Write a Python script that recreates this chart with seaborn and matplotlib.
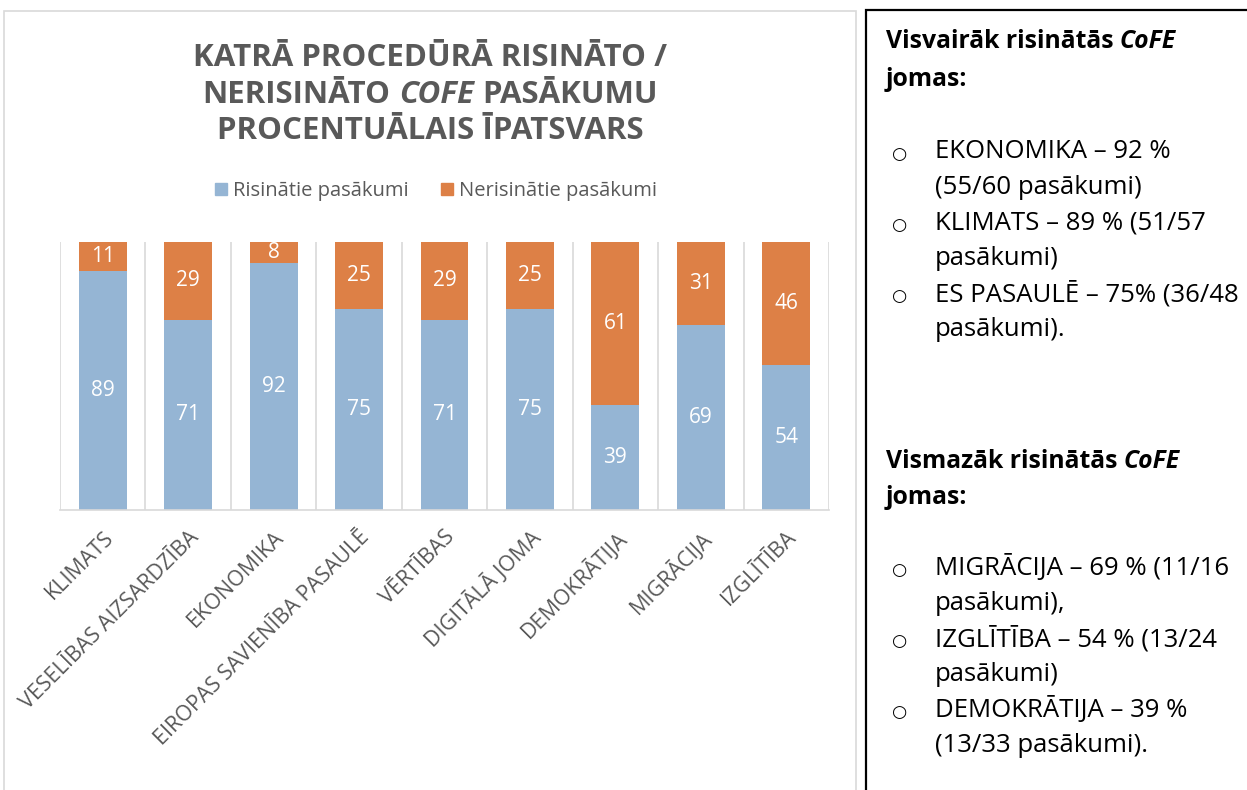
import matplotlib
matplotlib.use("Agg")
import matplotlib.pyplot as plt
import seaborn as sns
import pandas as pd
from matplotlib.patches import Rectangle, Patch

categories = ["KLIMATS", "VESELĪBAS AIZSARDZĪBA", "EKONOMIKA", "EIROPAS SAVIENĪBA PASAULĒ",
              "VĒRTĪBAS", "DIGITĀLĀ JOMA", "DEMOKRĀTIJA", "MIGRĀCIJA", "IZGLĪTĪBA"]
resolved = [89, 71, 92, 75, 71, 75, 39, 69, 54]
unresolved = [11, 29, 8, 25, 29, 25, 61, 31, 46]
series_names = ["Risinātie pasākumi", "Nerisinātie pasākumi"]

title_lines = [
    [("KATRĀ PROCEDŪRĀ RISINĀTO /", "normal")],
    [("NERISINĀTO", "normal"), ("COFE", "italic"), ("PASĀKUMU", "normal")],
    [("PROCENTUĀLAIS ĪPATSVARS", "normal")],
]

side_top_heading = [("Visvairāk risinātās", "normal"), ("CoFE", "italic")]
side_top_items = [
    ["EKONOMIKA – 92 %", "(55/60 pasākumi)"],
    ["KLIMATS – 89 % (51/57", "pasākumi)"],
    ["ES PASAULĒ – 75% (36/48", "pasākumi)."],
]
side_bottom_heading = [("Vismazāk risinātās", "normal"), ("CoFE", "italic")]
side_bottom_items = [
    ["MIGRĀCIJA – 69 % (11/16", "pasākumi),"],
    ["IZGLĪTĪBA – 54 % (13/24", "pasākumi)"],
    ["DEMOKRĀTIJA – 39 %", "(13/33 pasākumi)."],
]

BLUE = "#95B5D4"
ORANGE = "#DD8046"
GRAY = "#595959"
GRID = "#D9D9D9"

sns.set_theme(style="white")
FONT = ["Open Sans", "DejaVu Sans"]
plt.rcParams["font.family"] = FONT

W, H = 1247, 790
fig = plt.figure(figsize=(W / 100, H / 100), dpi=100)
fig.patch.set_facecolor("white")


def fx(px):
    return px / W


def fy(py):
    return 1 - py / H


# frames
fig.patches.append(Rectangle((fx(4), fy(800)), fx(856) - fx(4), fy(11) - fy(800),
                             transform=fig.transFigure, fill=False, edgecolor=GRID, lw=1.2))
fig.patches.append(Rectangle((fx(866), fy(805)), fx(1265) - fx(866), fy(10) - fy(805),
                             transform=fig.transFigure, fill=False, edgecolor="black", lw=1.6))

# axes
ax = fig.add_axes([fx(60), fy(510), fx(829) - fx(60), fy(242) - fy(510)])
df = pd.DataFrame({"cat": categories, "res": resolved,
                   "tot": [r + u for r, u in zip(resolved, unresolved)]})
sns.barplot(data=df, x="cat", y="tot", color=ORANGE, width=0.56, ax=ax,
            saturation=1, edgecolor="none", linewidth=0, order=categories)
sns.barplot(data=df, x="cat", y="res", color=BLUE, width=0.56, ax=ax,
            saturation=1, edgecolor="none", linewidth=0, order=categories)

ax.set_ylim(0, 100)
ax.set_xlim(-0.5, len(categories) - 0.5)
ax.set_xlabel("")
ax.set_ylabel("")
ax.set_yticks([])
for s in ["top", "right", "left"]:
    ax.spines[s].set_visible(False)
ax.spines["bottom"].set_color(GRID)
ax.spines["bottom"].set_linewidth(1.2)
for b in range(len(categories) + 1):
    ax.axvline(b - 0.5, color=GRID, lw=1.2, zorder=0)

# data labels
orange_c, blue_c = ax.containers[0], ax.containers[1]
for rect, r, u in zip(orange_c, resolved, unresolved):
    ax.text(rect.get_x() + rect.get_width() / 2, r + u / 2, f"{u}", ha="center", va="center",
            color="white", fontsize=15)
ax.bar_label(blue_c, labels=[f"{v}" for v in resolved], label_type="center",
             color="white", fontsize=15)

ax.set_xticks(range(len(categories)))
ax.set_xticklabels(categories, rotation=45, ha="right", va="top", rotation_mode="anchor",
                   color=GRAY, fontsize=15.5)
ax.tick_params(axis="x", length=0, pad=12)

# legend
handles = [Patch(color=BLUE), Patch(color=ORANGE)]
leg = fig.legend(handles, series_names, loc="center", bbox_to_anchor=(fx(436), fy(191)),
                 ncol=2, frameon=False, fontsize=14.5, handlelength=0.6, handleheight=0.6,
                 handletextpad=0.3, columnspacing=1.6)
for t in leg.get_texts():
    t.set_color(GRAY)

renderer = fig.canvas.get_renderer()


def measure(text, **kw):
    t = fig.text(0, 0, text, **kw)
    w = t.get_window_extent(renderer).width
    t.remove()
    return w


def draw_runs(runs, x, y, ha="left", **kw):
    space = measure("A A", **kw) - measure("AA", **kw)
    widths = [measure(s, style=st, **kw) for s, st in runs]
    total = sum(widths) + space * (len(runs) - 1)
    start = x - total / 2 if ha == "center" else x
    cur = start
    for (s, st), w in zip(runs, widths):
        fig.text(fx(cur), fy(y), s, style=st, ha="left", va="center", **kw)
        cur += w + space


# title
for line, yy in zip(title_lines, [58, 95, 131]):
    draw_runs(line, 430, yy, ha="center", fontsize=22.5, fontweight="bold", color=GRAY)

# side panel
side_kw = dict(fontsize=18.5, color="black")
head_kw = dict(fontsize=17.8, color="black", fontweight="bold")
draw_runs(side_top_heading, 886, 42, **head_kw)
fig.text(fx(886), fy(80), "jomas:", va="center", **head_kw)
draw_runs(side_bottom_heading, 886, 461, **head_kw)
fig.text(fx(886), fy(497), "jomas:", va="center", **head_kw)

line_h = 35.5
for items, y0 in [(side_top_items, 152), (side_bottom_items, 568)]:
    yy = y0
    for item in items:
        fig.text(fx(900), fy(yy + 2), "○", ha="center", va="center", fontsize=12.5,
                 family="DejaVu Sans", color="black")
        for ln in item:
            fig.text(fx(935), fy(yy), ln, ha="left", va="center", **side_kw)
            yy += line_h

fig.savefig("out.png", dpi=100, facecolor="white")
